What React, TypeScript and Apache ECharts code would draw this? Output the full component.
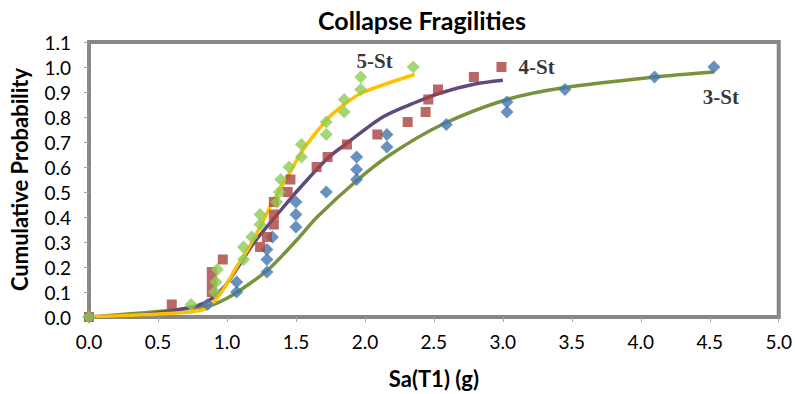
import React, { useEffect, useRef } from "react";
import * as echarts from "echarts";

// 3-St observed points
const st3X = [0, 0.86, 1.07, 1.07, 1.29, 1.29, 1.29, 1.33, 1.5, 1.5, 1.5, 1.72, 1.94, 1.94, 1.94, 2.16, 2.16, 2.59, 3.03, 3.03, 3.45, 4.1, 4.53];
const st3Y = [0, 0.05, 0.1, 0.14, 0.18, 0.23, 0.27, 0.32, 0.36, 0.41, 0.46, 0.5, 0.55, 0.59, 0.64, 0.68, 0.73, 0.77, 0.82, 0.86, 0.91, 0.96, 1.0];
// 4-St observed points
const st4X = [0, 0.6, 0.89, 0.89, 0.89, 0.97, 1.24, 1.29, 1.34, 1.34, 1.34, 1.44, 1.46, 1.65, 1.73, 1.87, 2.09, 2.31, 2.44, 2.46, 2.53, 2.79, 2.99];
const st4Y = [0, 0.05, 0.1, 0.14, 0.18, 0.23, 0.28, 0.32, 0.37, 0.41, 0.46, 0.5, 0.55, 0.6, 0.64, 0.69, 0.73, 0.78, 0.82, 0.87, 0.91, 0.96, 1.0];
// 5-St observed points
const st5X = [0, 0.74, 0.91, 0.92, 0.93, 1.12, 1.12, 1.18, 1.24, 1.24, 1.36, 1.38, 1.39, 1.45, 1.54, 1.54, 1.72, 1.72, 1.85, 1.85, 1.97, 1.97, 2.35];
const st5Y = [0, 0.05, 0.1, 0.14, 0.19, 0.23, 0.28, 0.32, 0.37, 0.41, 0.46, 0.5, 0.55, 0.6, 0.64, 0.69, 0.73, 0.78, 0.82, 0.87, 0.91, 0.96, 1.0];

// fitted curves
const fit3X = [0, 0.86, 1.0, 1.13, 1.3, 1.51, 1.65, 1.94, 2.18, 2.56, 3.03, 3.45, 4.1, 4.53];
const fit3Y = [0, 0.043, 0.075, 0.12, 0.19, 0.31, 0.398, 0.545, 0.648, 0.77, 0.87, 0.918, 0.96, 0.98];
const fit4X = [0, 0.41, 0.72, 0.86, 0.98, 1.08, 1.2, 1.41, 1.53, 1.73, 1.87, 2.13, 2.37, 2.56, 2.79, 3.0];
const fit4Y = [0, 0.01, 0.037, 0.063, 0.12, 0.2, 0.3, 0.44, 0.517, 0.635, 0.695, 0.8, 0.859, 0.898, 0.931, 0.947];
const fit5X = [0, 0.74, 0.86, 0.92, 0.98, 1.07, 1.13, 1.24, 1.34, 1.45, 1.54, 1.725, 1.85, 1.98, 2.36];
const fit5Y = [0, 0.02, 0.037, 0.07, 0.116, 0.2, 0.25, 0.36, 0.47, 0.57, 0.66, 0.79, 0.85, 0.897, 0.97];

const xTicks = ["0.0", "0.5", "1.0", "1.5", "2.0", "2.5", "3.0", "3.5", "4.0", "4.5", "5.0"];

const zip = (xs: number[], ys: number[]) => xs.map((x, i) => [x, ys[i]]);

const SANS = "Lato, 'Liberation Sans', Arial, sans-serif";
const SERIF = "'Liberation Serif', 'Times New Roman', serif";

function withLabel(xs: number[], ys: number[], text: string, lbl: any) {
  const pts: any[] = zip(xs, ys);
  const last = pts.length - 1;
  pts[last] = {
    value: pts[last],
    label: {
      show: true,
      formatter: text,
      fontFamily: SERIF,
      fontWeight: "bold",
      fontSize: 21,
      color: "#000",
      ...lbl,
    },
  };
  return pts;
}

export default function App() {
  const ref = useRef<HTMLDivElement>(null);
  useEffect(() => {
    if (!ref.current) return;
    const chart = echarts.init(ref.current, undefined, { renderer: "svg" });
    chart.setOption({
      animation: false,
      backgroundColor: "#fff",
      title: {
        text: "Collapse Fragilities",
        left: 417,
        textAlign: "center",
        top: 2,
        textStyle: { fontFamily: SANS, fontWeight: "bold", fontSize: 25, color: "#000" },
      },
      grid: {
        left: 83,
        right: 15,
        top: 42,
        bottom: 73,
        show: true,
        borderColor: "#878787",
        borderWidth: 4,
        backgroundColor: "#fff",
      },
      xAxis: {
        type: "value",
        min: 0,
        max: 5,
        interval: 0.5,
        name: "Sa(T1) (g)",
        nameLocation: "middle",
        nameGap: 50,
        nameTextStyle: { fontFamily: SANS, fontWeight: "bold", fontSize: 22, color: "#000" },
        axisLine: { show: false },
        axisTick: { show: true, length: 5, inside: false, lineStyle: { color: "#a6a6a6" } },
        axisLabel: {
          fontFamily: SANS,
          fontSize: 19,
          color: "#000",
          margin: 15,
          formatter: (v: number) => xTicks[Math.round(v / 0.5)] ?? v.toFixed(1),
        },
        splitLine: { show: false },
      },
      yAxis: {
        type: "value",
        min: 0,
        max: 1.1,
        interval: 0.1,
        name: "Cumulative Probability",
        nameLocation: "middle",
        nameGap: 59,
        nameTextStyle: { fontFamily: SANS, fontWeight: "bold", fontSize: 22, color: "#000" },
        axisLine: { show: false },
        axisTick: { show: true, length: 5, lineStyle: { color: "#a6a6a6" } },
        axisLabel: {
          fontFamily: SANS,
          fontSize: 19,
          color: "#000",
          margin: 18,
          formatter: (v: number) => v.toFixed(1),
        },
        splitLine: { show: false },
      },
      series: [
        {
          type: "line",
          data: zip(fit3X, fit3Y),
          smooth: 0.3,
          showSymbol: false,
          lineStyle: { color: "#77933C", width: 3.5 },
          z: 2,
        },
        {
          type: "line",
          data: zip(fit4X, fit4Y),
          smooth: 0.3,
          showSymbol: false,
          lineStyle: { color: "#604A7B", width: 3.5 },
          z: 2,
        },
        {
          type: "line",
          data: zip(fit5X, fit5Y),
          smooth: 0.3,
          showSymbol: false,
          lineStyle: { color: "#FFC000", width: 3.5 },
          z: 2,
        },
        {
          type: "scatter",
          symbol: "diamond",
          symbolSize: 13,
          itemStyle: { color: "#4376B0" },
          data: withLabel(st3X, st3Y, "3-St", { position: "bottom", distance: 13, offset: [7, 0] }),
          z: 3,
        },
        {
          type: "scatter",
          symbol: "rect",
          symbolSize: 10,
          itemStyle: { color: "#A8423F" },
          data: withLabel(st4X, st4Y, "4-St", { position: "right", distance: 12, offset: [0, 0] }),
          z: 3,
        },
        {
          type: "scatter",
          symbol: "diamond",
          symbolSize: 13,
          itemStyle: { color: "#8ECC52" },
          data: withLabel(st5X, st5Y, "5-St", { position: "left", distance: 14, offset: [0, -6] }),
          z: 4,
        },
      ],
    });
    return () => chart.dispose();
  }, []);
  return (
    <div
      ref={ref}
      style={{ position: "fixed", left: 0, top: 0, width: 795, height: 394 }}
    />
  );
}
